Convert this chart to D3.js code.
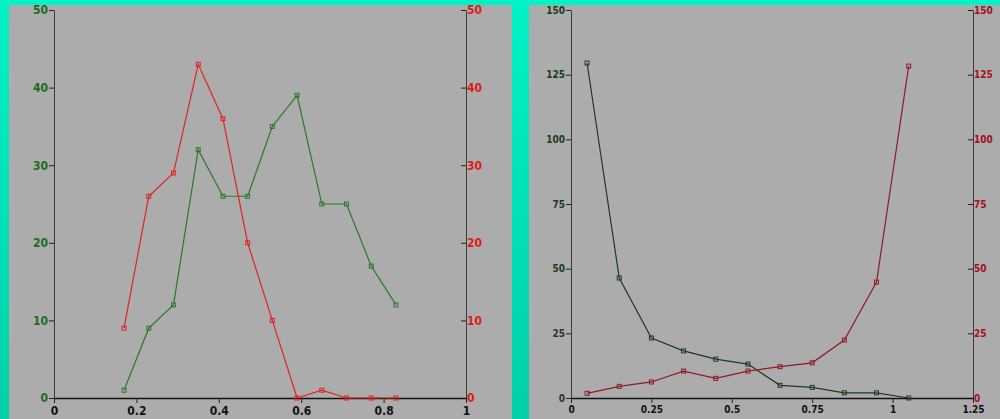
<!DOCTYPE html>
<html>
<head>
<meta charset="utf-8">
<script src="https://cdn.jsdelivr.net/npm/d3@7"></script>
<style>
  body { margin: 0; }
  svg { display: block; }
</style>
</head>
<body>
<div id="chart"></div>
<script>
// left panel data
const xLeft = [0.17, 0.23, 0.29, 0.35, 0.41, 0.47, 0.53, 0.59, 0.65, 0.71, 0.77, 0.83];
const greenLeft = [1, 9, 12, 32, 26, 26, 35, 39, 25, 25, 17, 12];
const redLeft = [9, 26, 29, 43, 36, 20, 10, 0, 1, 0, 0, 0];
const xTicksLeft = [0, 0.2, 0.4, 0.6, 0.8, 1];
const yTicksLeft = [0, 10, 20, 30, 40, 50];

// right panel data
const xRight = [0.05, 0.15, 0.25, 0.35, 0.45, 0.55, 0.65, 0.75, 0.85, 0.95, 1.05];
const greenRight = [129.5, 46.4, 23.2, 18.2, 15, 13.1, 4.9, 4.1, 2, 2, 0];
const redRight = [1.8, 4.5, 6.2, 10.4, 7.6, 10.4, 12.1, 13.6, 22.4, 44.8, 128.3];
const xTicksRight = [0, 0.25, 0.5, 0.75, 1, 1.25];
const yTicksRight = [0, 25, 50, 75, 100, 125, 150];

const W = 1000, H = 419;
const svg = d3.select("#chart").append("svg")
  .attr("width", W).attr("height", H);

const defs = svg.append("defs");
const grad = defs.append("linearGradient").attr("id", "bg")
  .attr("x1", 0).attr("y1", 0).attr("x2", 0).attr("y2", 1);
grad.append("stop").attr("offset", "0%").attr("stop-color", "#00f2c6");
grad.append("stop").attr("offset", "100%").attr("stop-color", "#00cfa9");
svg.append("rect").attr("width", W).attr("height", H).attr("fill", "url(#bg)");

let drawPanel = (cfg) => {
  const g = svg.append("g");
  g.append("rect")
    .attr("x", cfg.px).attr("y", 5)
    .attr("width", cfg.pw).attr("height", H - 5)
    .attr("fill", "#acacac");

  const x = d3.scaleLinear().domain(cfg.xDomain).range([cfg.x0, cfg.x1]);
  const y = d3.scaleLinear().domain(cfg.yDomain).range([398, 10]);

  const font = cfg.font;

  // left axis
  const la = g.append("g")
    .attr("transform", `translate(${cfg.x0},0)`)
    .call(d3.axisLeft(y).tickValues(cfg.yTicks).tickSize(5).tickSizeOuter(0).tickPadding(1));
  la.select(".domain").attr("stroke", "#3a3a3a");
  la.selectAll("line").attr("stroke", "#222");
  la.selectAll("text").attr("fill", cfg.leftColor).style("font", font);

  // right axis
  const ra = g.append("g")
    .attr("transform", `translate(${cfg.x1},0)`)
    .call(d3.axisRight(y).tickValues(cfg.yTicks).tickSize(5).tickSizeOuter(0).tickPadding(1));
  ra.select(".domain").attr("stroke", "#3a3a3a");
  ra.selectAll("line").attr("stroke", "#222").attr("x1", -5).attr("x2", 0);
  ra.selectAll("text").attr("fill", cfg.rightColor).attr("x", 1).style("font", font);

  // bottom axis
  const ba = g.append("g")
    .attr("transform", `translate(0,398)`)
    .call(d3.axisBottom(x).tickValues(cfg.xTicks).tickFormat(d3.format("~g")).tickSize(5).tickSizeOuter(0).tickPadding(3));
  ba.select(".domain").attr("stroke", "#111").attr("stroke-width", 1.5);
  ba.selectAll("line").attr("stroke", "#222");
  ba.selectAll("text").attr("fill", "#111").style("font", font);

  cfg.series.forEach(s => {
    const pts = cfg.xs.map((d, i) => [d, s.values[i]]);
    g.append("path")
      .datum(pts)
      .attr("fill", "none")
      .attr("stroke", s.color)
      .attr("stroke-width", 1.2)
      .attr("d", d3.line().x(d => x(d[0])).y(d => y(d[1])));
    g.append("g").selectAll("rect")
      .data(pts).enter().append("rect")
      .attr("x", d => x(d[0]) - 2)
      .attr("y", d => y(d[1]) - 2)
      .attr("width", 4).attr("height", 4)
      .attr("fill", "none")
      .attr("stroke", s.color)
      .attr("stroke-width", 1);
  });
};

drawPanel({
  px: 9, pw: 503,
  x0: 54, x1: 466,
  xDomain: [0, 1], yDomain: [0, 50],
  xTicks: xTicksLeft, yTicks: yTicksLeft,
  xs: xLeft,
  font: "bold 12px 'DejaVu Sans Condensed', 'Liberation Sans Narrow', sans-serif",
  leftColor: "#1e6a1e", rightColor: "#e01818",
  series: [
    { values: greenLeft, color: "#2a7a2a" },
    { values: redLeft, color: "#e02424" }
  ]
});

drawPanel({
  px: 529, pw: 471,
  x0: 571, x1: 973,
  xDomain: [0, 1.25], yDomain: [0, 150],
  xTicks: xTicksRight, yTicks: yTicksRight,
  xs: xRight,
  font: "bold 10px 'DejaVu Sans Condensed', 'Liberation Sans Narrow', sans-serif",
  leftColor: "#1c3a1c", rightColor: "#a01020",
  series: [
    { values: greenRight, color: "#1e3a1e" },
    { values: redRight, color: "#8e1a2a" }
  ]
});
</script>
</body>
</html>
